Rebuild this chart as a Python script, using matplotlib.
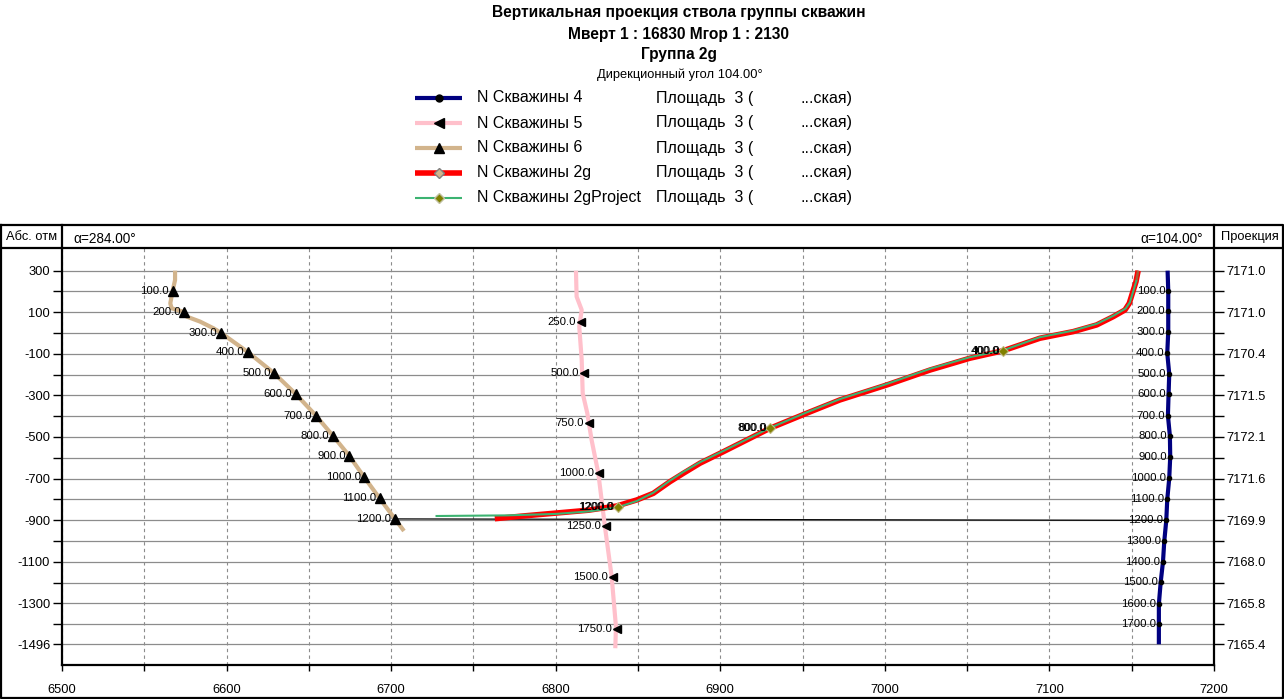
#!/usr/bin/env python3
"""
Vertical projection of a group of wells (well trajectories, MD labels)
"""

import matplotlib
matplotlib.use('Agg')
import matplotlib.pyplot as plt
from matplotlib import font_manager
from matplotlib.lines import Line2D

# ---------------- data ----------------
title_lines = ['Вертикальная проекция ствола группы скважин',
               'Мверт 1 : 16830 Мгор 1 : 2130',
               'Группа 2g']
subtitle = 'Дирекционный угол 104.00°'

legend_names = ['N Скважины 4', 'N Скважины 5', 'N Скважины 6',
                'N Скважины 2g', 'N Скважины 2gProject']
legend_area = 'Площадь  3 ('
legend_tail = '...ская)'

x_major = [6500, 6600, 6700, 6800, 6900, 7000, 7100, 7200]
x_minor = [6550, 6650, 6750, 6850, 6950, 7050, 7150]
y_major = [300, 100, -100, -300, -500, -700, -900, -1100, -1300, -1496]
y_minor = [200, 0, -200, -400, -600, -800, -1000, -1200, -1400]
proj_labels = ['7171.0', '7171.0', '7170.4', '7171.5', '7172.1',
               '7171.6', '7169.9', '7168.0', '7165.8', '7165.4']

# well 4 (navy)
w4_x = [7171.8, 7172.2, 7172.2, 7172.2, 7171.6, 7172.8, 7172.4, 7172.0, 7173.2, 7173.4,
        7172.8, 7171.6, 7171.0, 7169.8, 7169.0, 7167.6, 7166.5, 7166.5, 7166.5]
w4_y = [300, 204, 106, 7, -97, -197, -293, -397, -495, -595,
        -699, -800, -901, -1000, -1100, -1199, -1303, -1399, -1497]
w4_md = ['100.0', '200.0', '300.0', '400.0', '500.0', '600.0', '700.0', '800.0', '900.0',
         '1000.0', '1100.0', '1200.0', '1300.0', '1400.0', '1500.0', '1600.0', '1700.0']

# well 5 (pink)
w5_x = [6812.3, 6812.7, 6815.8, 6814.3, 6815.8, 6816.4, 6819.2, 6821.8, 6825.9,
        6829.9, 6834.0, 6836.6, 6836.2]
w5_y = [300, 175, 111, 31, -130, -290, -386, -514, -675, -931, -1172, -1412, -1516]
w5_mk_x = [6815.2, 6817.4, 6820.4, 6826.0, 6830.3, 6834.6, 6837.0]
w5_mk_y = [52, -194, -434, -675, -927, -1172, -1423]
w5_md = ['250.0', '500.0', '750.0', '1000.0', '1250.0', '1500.0', '1750.0']

# well 6 (tan)
w6_x = [6568.7, 6568.7, 6567.2, 6565.8, 6566.6, 6574.3, 6575.8, 6583.9, 6592.0, 6596.4,
        6613.0, 6629.0, 6642.0, 6654.3, 6664.7, 6674.6, 6683.7, 6693.0, 6702.3, 6707.8]
w6_y = [300, 255, 202, 143, 119, 101, 79, 55, 23, 2,
        -92, -194, -293, -397, -495, -591, -694, -795, -894, -952]
w6_mk_x = [6567.2, 6574.3, 6596.4, 6613.0, 6629.0, 6642.0, 6654.3, 6664.7, 6674.6,
           6683.7, 6693.0, 6702.3]
w6_mk_y = [202, 101, 2, -92, -194, -293, -397, -495, -591, -694, -795, -894]
w6_md = ['100.0', '200.0', '300.0', '400.0', '500.0', '600.0', '700.0', '800.0', '900.0',
         '1000.0', '1100.0', '1200.0']

# well 2g (red, actual)
w2g_x = [7153.9, 7152.6, 7148.5, 7145.9, 7138.8, 7128.7, 7114.5, 7094.2, 7071.9, 7051.7,
         7027.4, 7001.1, 6972.6, 6952.4, 6930.2, 6901.8, 6887.7, 6877.5, 6869.4, 6859.3,
         6849.2, 6837.0, 6820.0, 6800.0, 6780.0, 6763.0]
w2g_y = [300, 247, 143, 111, 79, 39, 7, -25, -85, -121,
         -178, -250, -322, -386, -458, -571, -626, -675, -715, -771,
         -803, -832, -852, -866, -880, -893]

# well 2gProject (green, plan)
w2gp_x = [7153.9, 7152.8, 7148.9, 7146.3, 7139.2, 7129.0, 7114.5, 7094.2, 7071.9, 7051.7,
          7027.4, 7001.1, 6972.6, 6952.4, 6930.2, 6901.8, 6887.7, 6877.5, 6869.4, 6859.3,
          6849.2, 6837.6, 6820.0, 6800.0, 6770.0, 6727.6]
w2gp_y = [300, 250, 148, 118, 85, 45, 12, -20, -83, -116,
          -172, -245, -318, -382, -456, -567, -621, -668, -710, -768,
          -808, -838, -858, -870, -877, -880]
w2g_mk_x = [7071.9, 6930.2, 6837.6]
w2g_mk_y = [-85, -458, -838]
w2g_md = ['400.0', '800.0', '1200.0']

# black line joining the 1200.0 m points of wells 6 and 4
link_x = [6702.3, 7171.0]
link_y = [-894, -901]

# ---------------- style ----------------
W, H = 1284, 699
names = {f.name for f in font_manager.fontManager.ttflist}
NARROW = 'Liberation Sans Narrow' if 'Liberation Sans Narrow' in names else 'Liberation Sans'
small = 9.6 if NARROW != 'Liberation Sans' else 8.2
tick_fs = 11 if NARROW != 'Liberation Sans' else 9.3
plt.rcParams['font.family'] = ['Liberation Sans', 'DejaVu Sans']


def fx(px):
    return px / W


def fy(py):
    return 1 - py / H


fig = plt.figure(figsize=(W / 100, H / 100), dpi=100)

# title block
for txt, py in zip(title_lines, [13, 34, 55]):
    fig.text(fx(679), fy(py), txt, ha='center', va='center', fontsize=11.2, fontweight='bold')
fig.text(fx(680), fy(75), subtitle, ha='center', va='center', fontsize=9.3)

# legend block
leg_styles = [
    dict(color='#000080', lw=3, marker='o', mfc='black', mec='black', ms=5),
    dict(color='#ffc0cb', lw=3, marker='<', mfc='black', mec='black', ms=7),
    dict(color='#d2b48c', lw=3, marker='^', mfc='black', mec='black', ms=7),
    dict(color='#ff0000', lw=4, marker='D', mfc='#d2b48c', mec='#808080', ms=5),
    dict(color='#3cb371', lw=1.5, marker='D', mfc='#808000', mec='#c0c0a0', ms=5),
]
for i, (name, st) in enumerate(zip(legend_names, leg_styles)):
    py = [98, 123, 148, 173, 198][i]
    st = dict(st)
    mk = dict(marker=st.pop('marker'), mfc=st.pop('mfc'), mec=st.pop('mec'), ms=st.pop('ms'))
    fig.add_artist(Line2D([fx(415), fx(462)], [fy(py), fy(py)], transform=fig.transFigure,
                          solid_capstyle='butt', **st))
    fig.add_artist(Line2D([fx(438.5)], [fy(py)], transform=fig.transFigure, ls='none', **mk))
    fig.text(fx(477), fy(py), name, ha='left', va='center', fontsize=11.5)
    fig.text(fx(656), fy(py), legend_area, ha='left', va='center', fontsize=11.5)
    fig.text(fx(800), fy(py), legend_tail, ha='left', va='center', fontsize=11.5)

# frame and header row
frame_kw = dict(transform=fig.transFigure, color='black', lw=1.6, solid_capstyle='projecting')
fig.add_artist(Line2D([fx(1), fx(1283), fx(1283), fx(1), fx(1)],
                      [fy(225), fy(225), fy(698), fy(698), fy(225)], **frame_kw))
fig.add_artist(Line2D([fx(62), fx(62)], [fy(225), fy(248)], **frame_kw))
fig.add_artist(Line2D([fx(1214), fx(1214)], [fy(225), fy(248)], **frame_kw))
fig.add_artist(Line2D([fx(1), fx(1283)], [fy(248), fy(248)], **frame_kw))
fig.text(fx(32), fy(237), 'Абс. отм', ha='center', va='center', fontsize=tick_fs,
         family=NARROW)
fig.text(fx(1250), fy(237), 'Проекция', ha='center', va='center', fontsize=tick_fs,
         family=NARROW)
fig.text(fx(73), fy(239), 'α=284.00°', ha='left', va='center', fontsize=tick_fs + 0.5,
         family=NARROW)
fig.text(fx(1203), fy(239), 'α=104.00°', ha='right', va='center', fontsize=tick_fs + 0.5,
         family=NARROW)

# main axes
ax = fig.add_axes([fx(62), fy(665), (1214 - 62) / W, (665 - 248) / H])
ax.set_xlim(6500, 7200)
ax.set_ylim(-1596.6, 409)

ax.set_xticks(x_major)
ax.set_xticks(x_minor, minor=True)
ax.set_yticks(y_major)
ax.set_yticks(y_minor, minor=True)
ax.set_xticklabels([str(v) for v in x_major], family=NARROW, fontsize=tick_fs)
ax.set_yticklabels([str(v) for v in y_major], family=NARROW, fontsize=tick_fs)
ax.tick_params(axis='x', which='both', direction='out', length=4.5, width=1, pad=9)
ax.tick_params(axis='y', which='both', direction='out', length=6.5, width=1, pad=2)

ax.grid(axis='y', which='both', color='#8c8c8c', lw=0.9, ls='-')
ax.grid(axis='x', which='both', color='#8c8c8c', lw=0.8, ls=(0, (3, 3)))
ax.set_axisbelow(True)
for side in ['left', 'bottom', 'right']:
    ax.spines[side].set_linewidth(1.6)
ax.spines['top'].set_visible(False)

ax2 = ax.twinx()
ax2.set_ylim(ax.get_ylim())
ax2.set_yticks(y_major)
ax2.set_yticks(y_minor, minor=True)
ax2.set_yticklabels(proj_labels, family=NARROW, fontsize=tick_fs)
ax2.tick_params(axis='y', which='both', direction='out', length=7, width=1, pad=2)
for side in ['left', 'bottom', 'right', 'top']:
    ax2.spines[side].set_visible(False)

# link line
ax.plot(link_x, link_y, color='black', lw=0.9, zorder=2)

# well 6
ax.plot(w6_x, w6_y, color='#d2b48c', lw=3, zorder=3, solid_capstyle='butt')
ax.plot(w6_mk_x, w6_mk_y, ls='none', marker='^', color='black', ms=7, zorder=4)
for x, y, t in zip(w6_mk_x, w6_mk_y, w6_md):
    ax.annotate(t, (x, y), xytext=(-2.5, 0), textcoords='offset points', ha='right',
                va='center', fontsize=small, family=NARROW, zorder=5)

# well 5
ax.plot(w5_x, w5_y, color='#ffc0cb', lw=3, zorder=3, solid_capstyle='butt')
ax.plot(w5_mk_x, w5_mk_y, ls='none', marker='<', color='black', ms=6, zorder=4)
for x, y, t in zip(w5_mk_x, w5_mk_y, w5_md):
    ax.annotate(t, (x, y), xytext=(-3.5, 0), textcoords='offset points', ha='right',
                va='center', fontsize=small, family=NARROW, zorder=5)

# well 4
ax.plot(w4_x, w4_y, color='#000080', lw=3, zorder=3, solid_capstyle='butt')
ax.plot(w4_x[1:-1], w4_y[1:-1], ls='none', marker='o', color='black', ms=3, zorder=4)
for x, y, t in zip(w4_x[1:-1], w4_y[1:-1], w4_md):
    ax.annotate(t, (x, y), xytext=(-2, 0), textcoords='offset points', ha='right',
                va='center', fontsize=small, family=NARROW, zorder=5)

# well 2g and project (labels of both wells sit on top of each other)
ax.plot(w2g_x, w2g_y, color='#ff0000', lw=4, zorder=3, solid_capstyle='butt')
ax.plot(w2gp_x[:2], w2gp_y[:2], color='#a0603a', lw=1.8, zorder=4, solid_capstyle='butt')
ax.plot(w2gp_x[1:], w2gp_y[1:], color='#3cb371', lw=1.5, zorder=4)
ax.plot(w2g_mk_x, w2g_mk_y, ls='none', marker='D', mfc='#808000', mec='#c0b880',
        mew=0.8, ms=5, zorder=5)
for x, y, t in zip(w2g_mk_x, w2g_mk_y, w2g_md):
    for dx in (-3, -2.2):
        ax.annotate(t, (x, y), xytext=(dx, 0), textcoords='offset points', ha='right',
                    va='center', fontsize=small, family=NARROW, zorder=6)

fig.savefig('out.png', dpi=100)
